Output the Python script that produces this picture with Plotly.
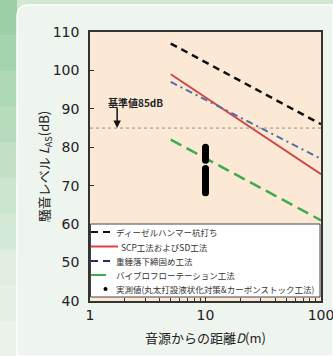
import plotly.graph_objects as go

# ---- data ----
line_names = ["ディーゼルハンマー杭打ち", "SCP工法およびSD工法", "重錘落下締固め工法", "バイブロフローテーション工法"]
line_x = [5, 100]
diesel_y = [107, 86]
scp_y = [99, 73]
weight_y = [97, 77]
vibro_y = [82, 61]
meas_name = "実測値(丸太打設液状化対策&カーボンストック工法)"
meas_x = [10] * 22
meas_y = [80.0, 79.5, 79.0, 78.5, 78.0, 77.5, 77.0, 76.6,
          74.5, 74.0, 73.5, 73.0, 72.5, 72.0, 71.5, 71.0, 70.5, 70.0, 69.5, 69.0, 68.5, 68.2]
standard_db = 85
x_ticks = [1, 10, 100]
y_ticks = [40, 50, 60, 70, 80, 90, 100, 110]

W, H = 333, 356
L, R, T, B = 90, 12, 32, 55
pw, ph = W - L - R, H - T - B

def px(x):
    return (x - L) / pw

def py(y):
    return (H - B - y) / ph

styles = [
    dict(color="#111111", width=2.5, dash="7px,5px"),
    dict(color="#cc4848", width=2),
    dict(color="#4f6fa8", width=2, dash="7px,4px,2px,4px"),
    dict(color="#3dab4e", width=2.5, dash="12px,6px"),
]
legend_styles = [
    dict(color="#111111", width=2, dash="7px,5px"),
    dict(color="#e04040", width=2),
    dict(color="#1f2d6a", width=2, dash="7px,5px"),
    dict(color="#3dab4e", width=2),
]

fig = go.Figure()
for name, ys, st in zip(line_names, [diesel_y, scp_y, weight_y, vibro_y], styles):
    fig.add_trace(go.Scatter(x=line_x, y=ys, mode="lines", name=name, line=st, showlegend=False))
fig.add_trace(go.Scatter(x=meas_x, y=meas_y, mode="markers", name=meas_name,
                         marker=dict(color="#000000", size=7), showlegend=False))

shapes = []
# green background on left / top
shapes.append(dict(type="rect", xref="paper", yref="paper", x0=px(0), x1=px(W), y0=py(H), y1=py(0),
                   fillcolor="#d3e8d3", line=dict(width=0), layer="below"))
greens = ["#9ccfa6", "#a4d3ad", "#add7b5", "#b7dbbd", "#c1e0c6", "#cbe5cf", "#d5e9d7", "#dfeedf", "#e6f1e5", "#ebf3ea"]
n = len(greens)
for i, c in enumerate(greens):
    shapes.append(dict(type="rect", xref="paper", yref="paper", x0=px(0), x1=px(17),
                       y0=py(H * (i + 1) / n), y1=py(H * i / n), fillcolor=c, line=dict(width=0), layer="below"))
# card with rounded corner
r = 12
card_path = (f"M {px(17)},{py(H)} L {px(17)},{py(5 + r)} Q {px(17)},{py(5)} {px(17 + r)},{py(5)} "
             f"L {px(W)},{py(5)} L {px(W)},{py(H)} Z")
shapes.append(dict(type="path", xref="paper", yref="paper", path=card_path,
                   fillcolor="#eef4ee", line=dict(color="#ffffff", width=1.5), layer="below"))
# plot area
shapes.append(dict(type="rect", xref="paper", yref="paper", x0=0, x1=1, y0=0, y1=1,
                   fillcolor="#fbe9d6", line=dict(width=0), layer="below"))
# reference line
shapes.append(dict(type="line", xref="paper", yref="y", x0=0, x1=1, y0=standard_db, y1=standard_db,
                   line=dict(color="#a09080", width=1, dash="dot")))

# legend box (drawn manually to match compact row spacing)
shapes.append(dict(type="rect", xref="paper", yref="paper", x0=px(90.5), x1=px(320), y0=py(297), y1=py(224),
                   fillcolor="#ffffff", line=dict(color="#444444", width=1), layer="above"))
row_y = [232, 246.5, 261, 275, 289]
sym_x = [(91, 111), (91, 118), (91, 111), (91, 106)]
for (sx0, sx1), yy, st in zip(sym_x, row_y, legend_styles):
    shapes.append(dict(type="line", xref="paper", yref="paper", x0=px(sx0), x1=px(sx1),
                       y0=py(yy), y1=py(yy), line=st, layer="above"))
shapes.append(dict(type="circle", xref="paper", yref="paper", x0=px(103.5), x1=px(107.5),
                   y0=py(row_y[4] + 2), y1=py(row_y[4] - 2), fillcolor="#000000",
                   line=dict(width=0), layer="above"))
fig.update_layout(shapes=shapes)

legend_texts = line_names + [meas_name]
text_x = [114, 119, 114, 114, 114]
for t, tx, yy in zip(legend_texts, text_x, row_y):
    fig.add_annotation(x=px(tx), y=py(yy), xref="paper", yref="paper", text=t, showarrow=False,
                       xanchor="left", yanchor="middle",
                       font=dict(size=8.5, color="#333333", family="Noto Sans CJK JP"))

fig.add_annotation(x=0.235, y=standard_db, xref="x", yref="y", text="", showarrow=True,
                   arrowhead=2, arrowsize=1, arrowwidth=1.5, arrowcolor="#111111", ax=0, ay=-22)
fig.add_annotation(x=0.39, y=91.7, xref="x", yref="y", text="<b>基準値85dB</b>", showarrow=False,
                   font=dict(size=10, color="#222222", family="Noto Sans CJK JP"))

fig.update_xaxes(type="log", range=[0, 2], tickvals=x_ticks, ticktext=[str(v) for v in x_ticks],
                 automargin=False, ticklabeloverflow="allow",
                 showline=True, linecolor="#333333", linewidth=1.5, mirror=True,
                 ticks="inside", ticklen=5, tickcolor="#333333", showgrid=False, zeroline=False,
                 minor=dict(ticks="inside", ticklen=3, tickcolor="#333333",
                            tickvals=[2, 3, 4, 5, 6, 7, 8, 9, 20, 30, 40, 50, 60, 70, 80, 90]),
                 tickfont=dict(family="DejaVu Sans", size=14, color="#222222"),
                 title=dict(text="音源からの距離<i>D</i>(m)", standoff=12,
                            font=dict(family="Noto Sans CJK JP", size=13, color="#222222")))
fig.update_yaxes(range=[40, 110], tickvals=y_ticks, automargin=False, ticklabeloverflow="allow",
                 showline=True, linecolor="#333333", linewidth=1.5,
                 mirror=True, ticks="inside", ticklen=4, tickcolor="#333333", showgrid=False, zeroline=False,
                 ticklabelstandoff=6,
                 tickfont=dict(family="DejaVu Sans", size=14, color="#222222"),
                 title=dict(text="騒音レベル <i>L</i><sub>AS</sub>(dB)", standoff=0,
                            font=dict(family="Noto Sans CJK JP", size=13, color="#222222")))

fig.update_layout(
    width=W, height=H, margin=dict(l=L, r=R, t=T, b=B), autosize=False,
    paper_bgcolor="#eef4ee", plot_bgcolor="#fbe9d6",
    showlegend=False,
)

fig.write_html("out.html", config={"displayModeBar": False, "responsive": False},
               post_script="document.body.style.margin='0px';document.body.style.overflow='hidden';"
                           "document.documentElement.style.overflow='hidden';")
